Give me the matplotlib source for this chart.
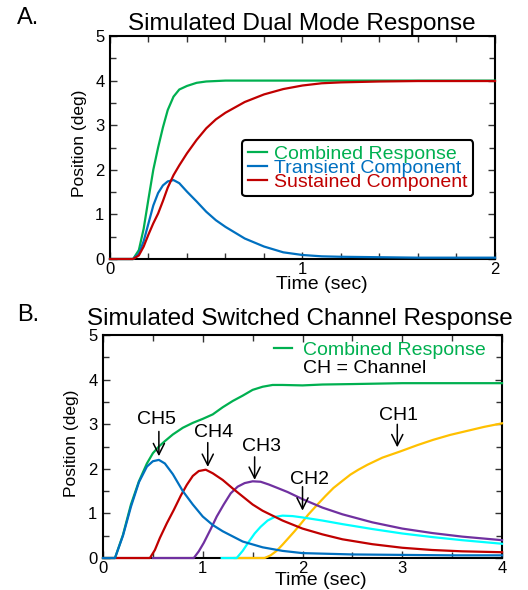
"""
Simulated dual mode vs switched channel response (two panels).
"""

import matplotlib
matplotlib.use("Agg")
import matplotlib.pyplot as plt
from matplotlib.ticker import MultipleLocator

plt.rcParams["font.family"] = ["Liberation Sans", "DejaVu Sans"]

GREEN = "#00b050"
BLUE = "#0070c0"
RED = "#c00000"
PURPLE = "#7030a0"
CYAN = "#00ffff"
ORANGE = "#ffc000"

# ---- panel A: dual mode ----
t_a = [0, 0.12, 0.15, 0.175, 0.2, 0.225, 0.25, 0.275, 0.3, 0.33, 0.36, 0.4, 0.45,
       0.5, 0.55, 0.6, 0.7, 0.8, 0.9, 1.0, 1.1, 1.2, 1.4, 1.6, 1.8, 2.0]
combined_a = [0, 0, 0.2, 0.68, 1.35, 2.0, 2.5, 2.95, 3.34, 3.64, 3.8, 3.88, 3.95,
              3.98, 3.99, 4.0, 4.0, 4.0, 4.0, 4.0, 4.0, 4.0, 4.0, 4.0, 4.0, 4.0]
transient_a = [0, 0, 0.12, 0.4, 0.8, 1.2, 1.48, 1.65, 1.74, 1.77, 1.7, 1.51, 1.29,
               1.06, 0.87, 0.72, 0.46, 0.28, 0.15, 0.09, 0.06, 0.05, 0.04, 0.03, 0.03, 0.03]
sustained_a = [0, 0, 0.08, 0.28, 0.55, 0.8, 1.02, 1.3, 1.6, 1.88, 2.1, 2.37, 2.67,
               2.93, 3.13, 3.28, 3.52, 3.69, 3.81, 3.89, 3.94, 3.96, 3.98, 3.99, 3.99, 3.99]

# ---- panel B: switched channels ----
t_comb = [0, 0.12, 0.2, 0.28, 0.36, 0.44, 0.5, 0.56, 0.62, 0.7, 0.8, 0.9, 1.0, 1.1,
          1.2, 1.3, 1.4, 1.5, 1.6, 1.7, 1.8, 2.0, 2.2, 2.5, 3.0, 3.5, 4.0]
combined_b = [0, 0, 0.52, 1.2, 1.72, 2.12, 2.35, 2.5, 2.62, 2.77, 2.92, 3.03, 3.12, 3.22,
              3.38, 3.52, 3.64, 3.77, 3.84, 3.88, 3.88, 3.87, 3.89, 3.9, 3.92, 3.92, 3.92]

t_ch5 = [0, 0.12, 0.2, 0.28, 0.36, 0.44, 0.5, 0.56, 0.62, 0.7, 0.8, 0.9, 1.0, 1.1,
         1.2, 1.4, 1.6, 1.8, 2.0, 2.5, 3.0, 3.5, 4.0]
ch5 = [0, 0, 0.5, 1.15, 1.7, 2.05, 2.17, 2.2, 2.12, 1.88, 1.5, 1.2, 0.93, 0.74,
       0.6, 0.37, 0.24, 0.16, 0.11, 0.08, 0.07, 0.06, 0.06]

t_ch4 = [0, 0.47, 0.52, 0.57, 0.64, 0.71, 0.78, 0.84, 0.9, 0.96, 1.03, 1.1, 1.2, 1.3,
         1.4, 1.5, 1.6, 1.8, 2.0, 2.2, 2.4, 2.7, 3.0, 3.3, 3.6, 4.0]
ch4 = [0, 0, 0.18, 0.45, 0.78, 1.08, 1.4, 1.64, 1.84, 1.95, 1.98, 1.9, 1.75, 1.56,
       1.38, 1.2, 1.06, 0.84, 0.66, 0.53, 0.42, 0.31, 0.23, 0.18, 0.15, 0.13]

t_ch3 = [0.5, 0.91, 0.96, 1.01, 1.08, 1.14, 1.21, 1.28, 1.35, 1.42, 1.5, 1.58, 1.66,
         1.75, 1.85, 2.0, 2.2, 2.4, 2.7, 3.0, 3.3, 3.6, 4.0]
ch3 = [0, 0, 0.15, 0.34, 0.65, 0.93, 1.2, 1.45, 1.6, 1.68, 1.72, 1.71, 1.65,
       1.57, 1.48, 1.32, 1.13, 0.98, 0.8, 0.66, 0.56, 0.48, 0.4]

t_ch2 = [1.19, 1.34, 1.4, 1.46, 1.52, 1.58, 1.65, 1.72, 1.8, 1.9, 2.0, 2.2, 2.4,
         2.7, 3.0, 3.3, 3.6, 4.0]
ch2 = [0, 0, 0.16, 0.36, 0.55, 0.7, 0.84, 0.92, 0.95, 0.94, 0.91, 0.84, 0.76,
       0.65, 0.55, 0.47, 0.4, 0.32]

t_ch1 = [1.32, 1.62, 1.68, 1.74, 1.8, 1.86, 1.92, 1.98, 2.06, 2.15, 2.23, 2.31, 2.4,
         2.48, 2.56, 2.65, 2.8, 2.98, 3.15, 3.31, 3.48, 3.65, 3.82, 4.0]
ch1 = [0, 0, 0.06, 0.16, 0.3, 0.45, 0.6, 0.76, 0.98, 1.2, 1.39, 1.57, 1.73,
       1.87, 1.98, 2.09, 2.25, 2.39, 2.53, 2.65, 2.76, 2.85, 2.94, 3.02]

# arrow labels: name, text position, arrow tail, arrow head
ch_labels = ["CH5", "CH4", "CH3", "CH2", "CH1"]
label_xy = [(0.54, 3.1), (1.11, 2.82), (1.59, 2.5), (2.07, 1.75), (2.96, 3.2)]
arrow_x = [0.56, 1.05, 1.52, 2.0, 2.95]
arrow_top = [2.9, 2.65, 2.33, 1.66, 3.06]
arrow_tip = [2.22, 1.98, 1.69, 1.0, 2.42]

LINE = dict(lw=1.6, zorder=3, clip_on=False)


def style_axes(ax, xmax, xmajor, xminor):
    ax.set_xlim(0, xmax)
    ax.set_ylim(0, 5)
    ax.xaxis.set_major_locator(MultipleLocator(xmajor))
    ax.xaxis.set_minor_locator(MultipleLocator(xminor))
    ax.yaxis.set_major_locator(MultipleLocator(1))
    ax.yaxis.set_minor_locator(MultipleLocator(0.5))
    ax.tick_params(which="both", direction="in", top=True, right=True,
                   labelsize=12, width=1, color="#333333")
    ax.tick_params(which="major", length=5, pad=4)
    ax.tick_params(axis="x", which="major", pad=2)
    ax.tick_params(which="minor", length=4)
    for s in ax.spines.values():
        s.set_linewidth(1.5)


fig = plt.figure(figsize=(5.28, 5.90), dpi=100)

# panel A
ax_a = fig.add_axes([0.2083, 0.561, 0.7292, 0.378])
ax_a.plot(t_a, combined_a, color=GREEN, label="Combined Response", **LINE)
ax_a.plot(t_a, transient_a, color=BLUE, label="Transient Component", **LINE)
ax_a.plot(t_a, sustained_a, color=RED, label="Sustained Component", **LINE)
style_axes(ax_a, 2, 1, 0.2)
leg = ax_a.legend(loc="upper left", bbox_to_anchor=(0.343, 0.535), fontsize=14,
                  labelcolor="linecolor", handlelength=1.0, handletextpad=0.35,
                  labelspacing=-0.2, borderpad=0.3, borderaxespad=0, fancybox=True,
                  edgecolor="black", framealpha=1)
leg.get_frame().set_linewidth(1.5)

# panel B
ax_b = fig.add_axes([0.1951, 0.0542, 0.7557, 0.378])
ax_b.plot(t_ch1, ch1, color=ORANGE, **LINE)
ax_b.plot(t_ch2, ch2, color=CYAN, **LINE)
ax_b.plot(t_ch3, ch3, color=PURPLE, **LINE)
ax_b.plot(t_ch4, ch4, color=RED, **LINE)
ax_b.plot(t_comb, combined_b, color=GREEN, label="Combined Response", **LINE)
ax_b.plot(t_ch5, ch5, color=BLUE, **LINE)
style_axes(ax_b, 4, 1, 0.5)
ax_b.legend(loc="upper left", bbox_to_anchor=(0.40, 1.025), fontsize=14,
            labelcolor="linecolor", handlelength=0.9, handletextpad=0.6,
            borderaxespad=0.2, frameon=False)
ax_b.text(0.502, 0.852, "CH = Channel", transform=ax_b.transAxes, fontsize=14,
          ha="left", va="center")

for name, (tx, ty), ax_x, y0, y1 in zip(ch_labels, label_xy, arrow_x, arrow_top, arrow_tip):
    ax_b.text(tx, ty, name, fontsize=14, ha="center", va="center")
    ax_b.annotate("", xy=(ax_x, y1), xytext=(ax_x, y0),
                  arrowprops=dict(arrowstyle="->", lw=1.1, color="black",
                                  mutation_scale=20))

# titles, axis labels and panel letters
fig.text(0.572, 0.949, "Simulated Dual Mode Response", fontsize=17.5,
         ha="center", va="baseline")
fig.text(0.568, 0.449, "Simulated Switched Channel Response", fontsize=17.5,
         ha="center", va="baseline")
fig.text(0.61, 0.510, "Time (sec)", fontsize=14, ha="center", va="baseline")
fig.text(0.608, 0.008, "Time (sec)", fontsize=14, ha="center", va="baseline")
fig.text(0.150, 0.757, "Position (deg)", fontsize=12.5, rotation=90, ha="center",
         va="center")
fig.text(0.135, 0.249, "Position (deg)", fontsize=12.5, rotation=90, ha="center",
         va="center")
fig.text(0.053, 0.97, "A.", fontsize=17, ha="center", va="center")
fig.text(0.053, 0.466, "B.", fontsize=17, ha="center", va="center")

fig.savefig("out.png", dpi=100)
